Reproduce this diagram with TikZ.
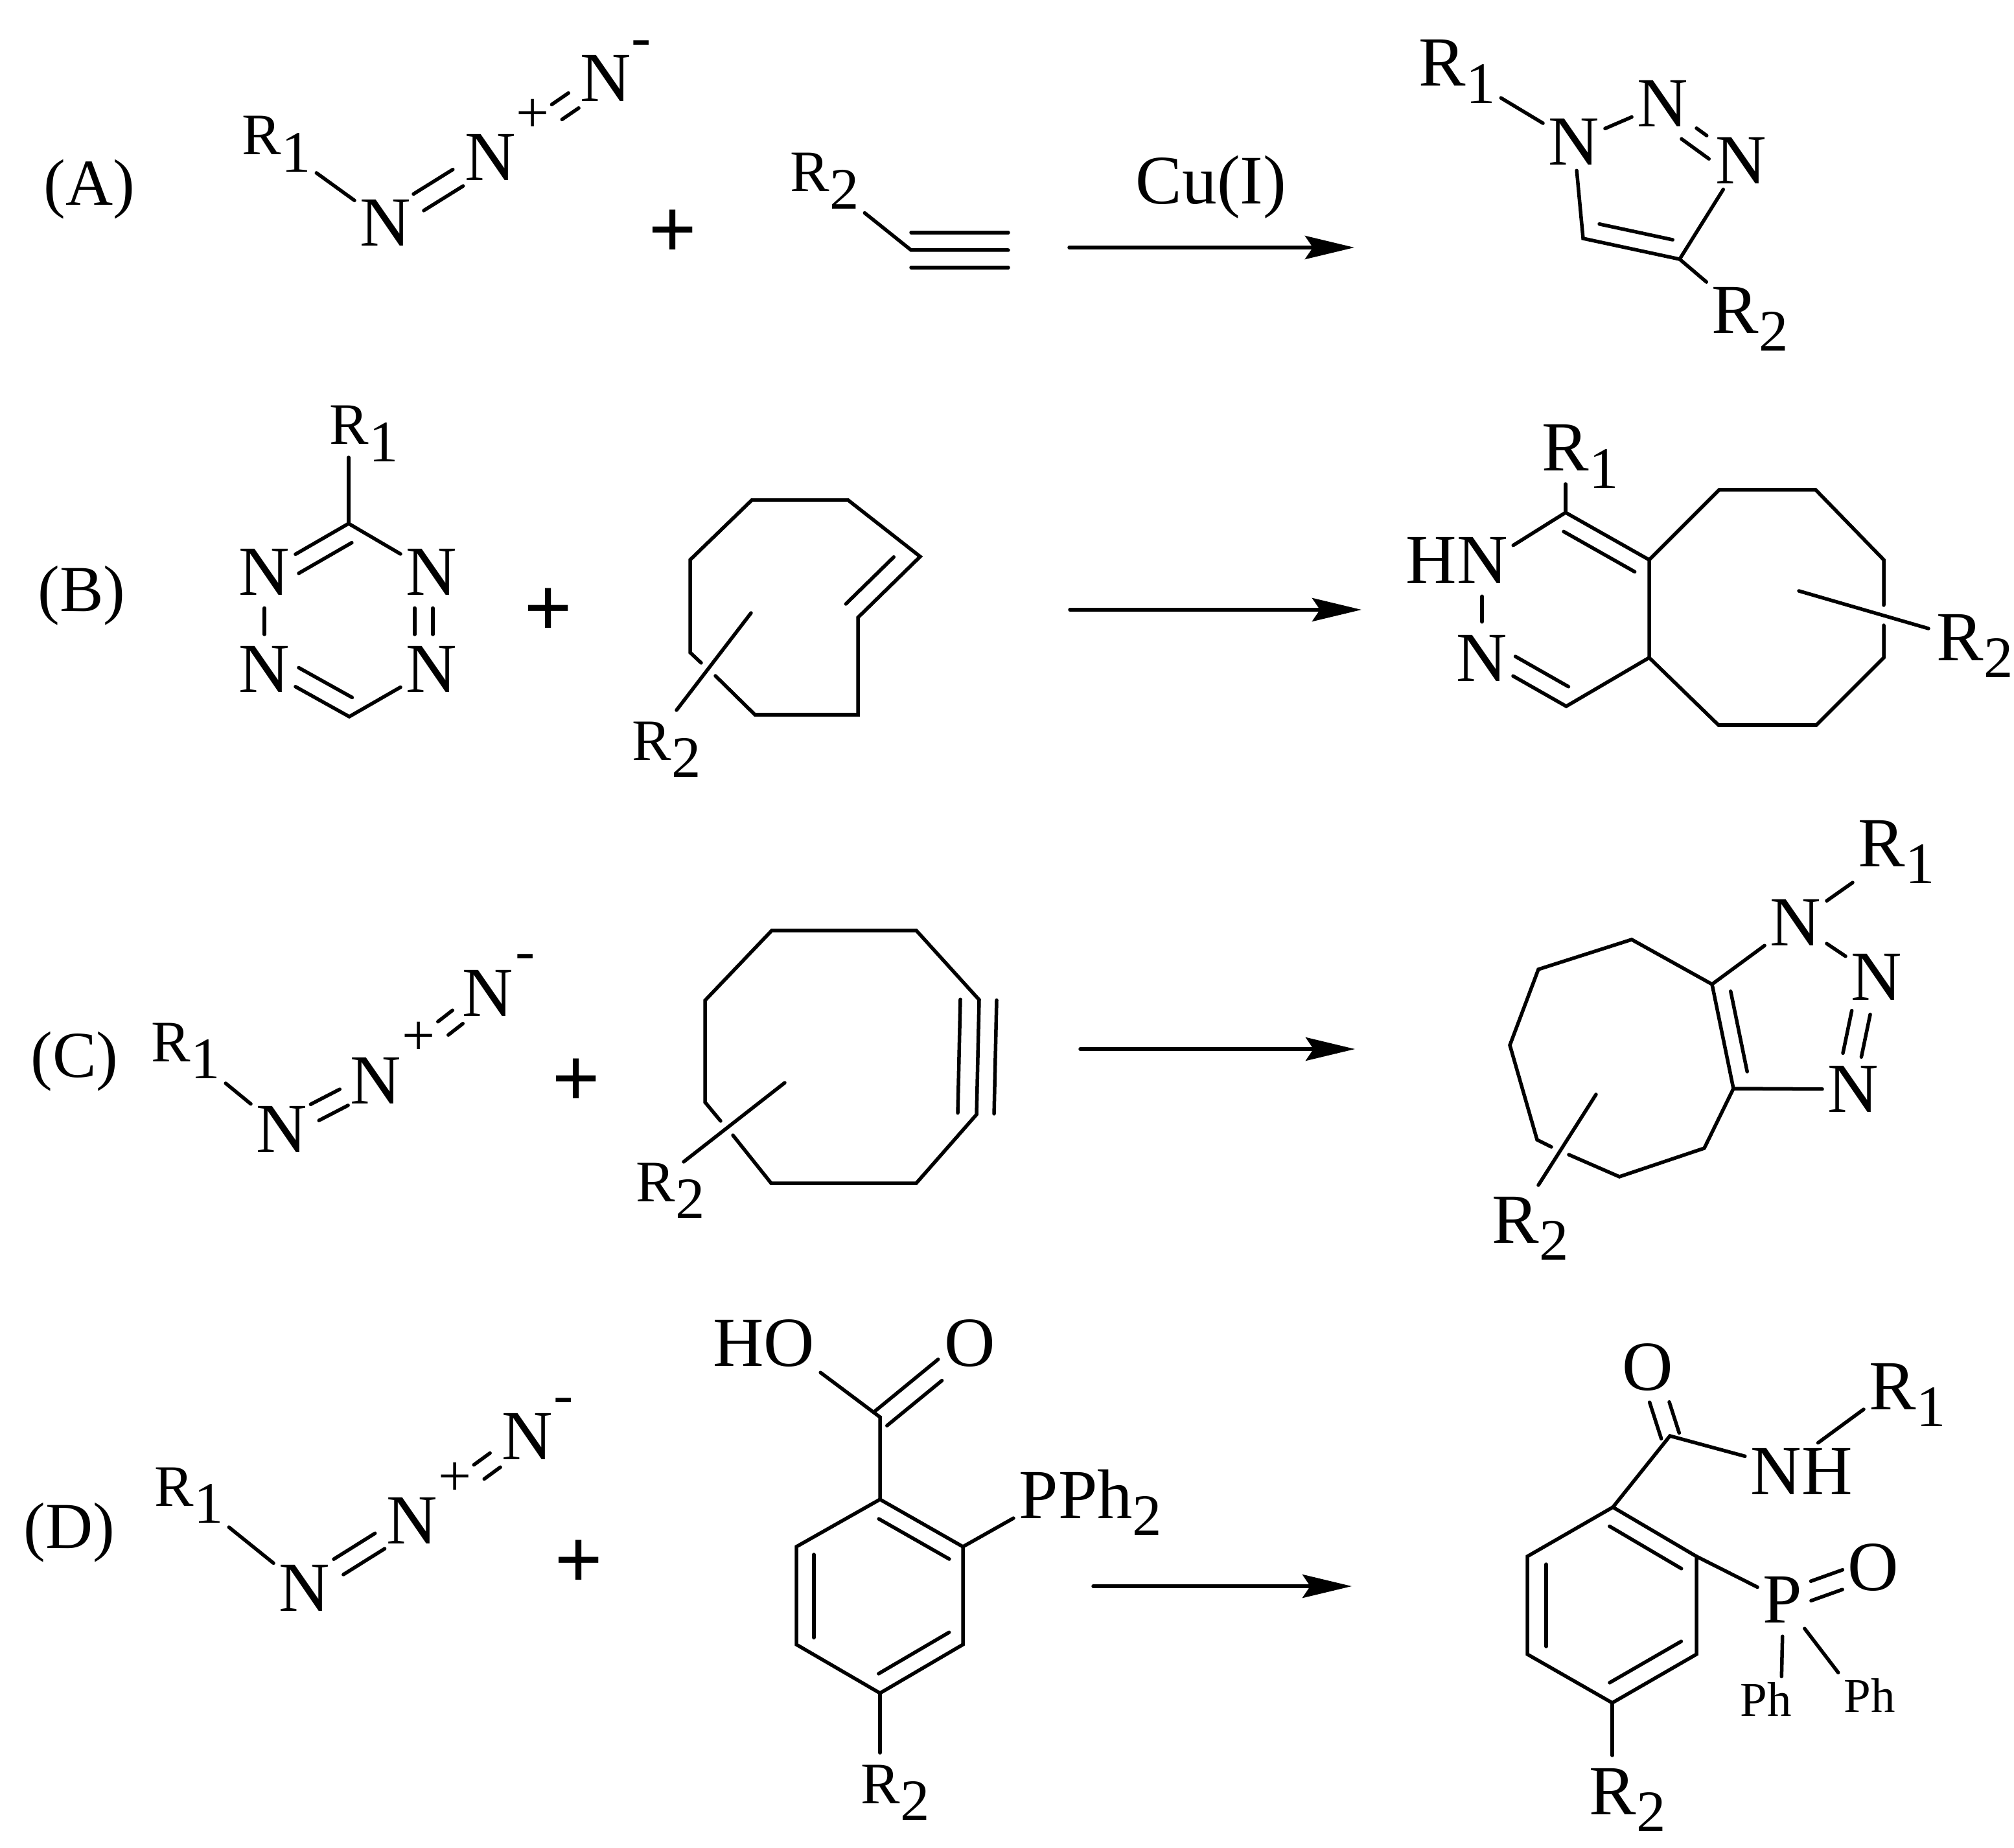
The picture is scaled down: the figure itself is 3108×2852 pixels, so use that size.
\documentclass[tikz,border=0pt]{standalone}
\usepackage{fontspec}
\setmainfont{Liberation Serif}
\usetikzlibrary{calc,arrows.meta}
\newcommand{\digitsize}{\fontsize{25.8}{26}\selectfont}
\newcommand{\Rsub}[1]{R\raisebox{-0.26cm}{\digitsize #1}}
\newcommand{\innerbond}[5]{\draw[bond] ($(#1)!#3!(#2)!#5!90:(#2)$) -- ($(#1)!#4!(#2)!#5!90:(#2)$);}
\tikzset{
	bond/.style={line width=0.055cm, line cap=round},
	rxn/.style={line width=0.055cm, line cap=round, -{Stealth[length=0.76cm,width=0.36cm,inset=0.12cm]}},
	atom/.style={font=\fontsize{30.9}{31}\selectfont, inner sep=0.08cm},
	rsmall/.style={font=\digitsize, inner sep=0.08cm, anchor=base west},
	rlarge/.style={font=\fontsize{30.9}{31}\selectfont, inner sep=0.08cm, anchor=base west},
	tag/.style={font=\fontsize{28.8}{30}\selectfont, anchor=base},
	plus/.style={font=\digitsize, inner sep=0pt, yshift=-0.06cm},
	minus/.style={font=\digitsize, inner sep=0pt, yshift=-0.13cm},
	bigplus/.style={font=\fontsize{37.5}{38}\selectfont\bfseries, inner sep=0pt, yshift=-0.06cm},
	phenyl/.style={font=\fontsize{21.3}{22}\selectfont, inner sep=0.08cm}
}
\begin{document}
\begin{tikzpicture}[x=0.01cm,y=-0.01cm]
	\useasboundingbox (0,0) rectangle (3108,2852);

	\node[tag] at (138,317) (tagA) {(A)};
	\node[rsmall] at (365,239) (aR1) {\Rsub{1}};
	\node[atom] at (595,344) (aN1) {N};
	\node[atom] at (757,243) (aN2) {N};
	\node[atom] at (935,121) (aN3) {N};
	\node[plus] at (822,173) (aPlus) {+};
	\node[minus] at (990,62) (aMinus) {-};
	\draw[bond] (aR1) -- (aN1);
	\innerbond{aN1}{aN2}{.315}{.69}{.15cm}
	\innerbond{aN1}{aN2}{.315}{.69}{-.15cm}
	\innerbond{aN2}{aN3}{.575}{.72}{.14cm}
	\innerbond{aN2}{aN3}{.575}{.72}{-.14cm}
	\node[bigplus] at (1038,355) (aAdd) {+};
	\node[rsmall] at (1211,296) (aR2) {\Rsub{2}};
	\coordinate (aC1) at (1406,386);
	\coordinate (aC2) at (1556,386);
	\draw[bond] (aR2) -- (aC1) -- (aC2);
	\innerbond{aC1}{aC2}{0}{1}{.27cm}
	\innerbond{aC1}{aC2}{0}{1}{-.27cm}
	\node[atom] at (1869,315) [anchor=base, font=\fontsize{30.5}{32}\selectfont] (aCu) {Cu(I)};
	\coordinate (aArrS) at (1650,382);
	\coordinate (aArrE) at (2090,382);
	\draw[rxn] (aArrS) -- (aArrE);

	\node[rlarge] at (2181,133) (apR1) {\Rsub{1}};
	\node[atom] at (2429,219) (apN1) {N};
	\node[atom] at (2566,160) (apN2) {N};
	\node[atom] at (2687,248) (apN3) {N};
	\node[rlarge] at (2633,515) (apR2) {\Rsub{2}};
	\coordinate (apC1) at (2443,368);
	\coordinate (apC2) at (2592,400);
	\draw[bond] (apR1) -- (apN1);
	\draw[bond] (apN1) -- (apN2);
	\innerbond{apN2}{apN3}{.43}{.56}{0cm}
	\innerbond{apN2}{apN3}{.37}{.72}{-.27cm}
	\draw[bond] (apN1) -- (apC1) -- (apC2) -- (apN3);
	\innerbond{apC1}{apC2}{.13}{.89}{.27cm}
	\draw[bond] (apC2) -- (apR2);

	\node[tag] at (126,943) (tagB) {(B)};
	\node[rsmall] at (500,686) (bR1) {\Rsub{1}};
	\coordinate (bR1e) at (538,706);
	\coordinate (bC1) at (538,808);
	\coordinate (bC2) at (539,1106);
	\node[atom] at (408,883) (bN1) {N};
	\node[atom] at (666,883) (bN2) {N};
	\node[atom] at (666,1033) (bN3) {N};
	\node[atom] at (408,1033) (bN4) {N};
	\draw[bond] (bR1e) -- (bC1);
	\draw[bond] (bN1) -- (bC1) -- (bN2);
	\draw[bond] (bN4) -- (bC2) -- (bN3);
	\innerbond{bN1}{bC1}{.30}{.93}{-.28cm}
	\innerbond{bN4}{bC2}{.30}{.93}{.28cm}
	\innerbond{bN1}{bN4}{.37}{.64}{0cm}
	\innerbond{bN2}{bN3}{.37}{.64}{.02cm}
	\innerbond{bN2}{bN3}{.37}{.64}{-.26cm}
	\node[bigplus] at (846,939) (bAdd) {+};
	\coordinate (bE1) at (1082,1023);
	\coordinate (bE2) at (1065,1007);
	\coordinate (bE3) at (1065,864);
	\coordinate (bE4) at (1160,772);
	\coordinate (bE5) at (1309,772);
	\coordinate (bE6) at (1420,859);
	\coordinate (bE7) at (1324,953);
	\coordinate (bE8) at (1324,1103);
	\coordinate (bE9) at (1165,1103);
	\coordinate (bE10) at (1104,1043);
	\draw[bond] (bE1) -- (bE2) -- (bE3) -- (bE4) -- (bE5) -- (bE6) -- (bE7) -- (bE8) -- (bE9) -- (bE10);
	\innerbond{bE6}{bE7}{.22}{.99}{-.28cm}
	\node[rsmall] at (967,1173) (bR2) {\Rsub{2}};
	\coordinate (bS1) at (1159,946);
	\coordinate (bS2) at (1044,1096);
	\draw[bond] (bS1) -- (bS2);
	\coordinate (bArrS) at (1651,941);
	\coordinate (bArrE) at (2101,941);
	\draw[rxn] (bArrS) -- (bArrE);

	\node[rlarge] at (2371,727) (bpR1) {\Rsub{1}};
	\coordinate (bpR1e) at (2416,747);
	\node[atom] at (2248,865) (bpHN) {HN};
	\node[atom] at (2287,1016) (bpN) {N};
	\coordinate (bpC1) at (2416,791);
	\coordinate (bpC2) at (2545,864);
	\coordinate (bpC3) at (2545,1015);
	\coordinate (bpC4) at (2417,1090);
	\draw[bond] (bpR1e) -- (bpC1);
	\draw[bond] (bpHN.15) -- (bpC1) -- (bpC2) -- (bpC3) -- (bpC4) -- (bpN);
	\draw[bond, shorten <=0.11cm, shorten >=0.12cm] (bpN |- bpHN.south) -- (bpN.north);
	\innerbond{bpC1}{bpC2}{.08}{.93}{-.27cm}
	\innerbond{bpN}{bpC4}{.29}{.92}{.28cm}
	\coordinate (bpE1) at (2653,756);
	\coordinate (bpE2) at (2802,756);
	\coordinate (bpE3) at (2907,864);
	\coordinate (bpE4) at (2907,934);
	\coordinate (bpE5) at (2907,965);
	\coordinate (bpE6) at (2907,1015);
	\coordinate (bpE7) at (2803,1119);
	\coordinate (bpE8) at (2652,1119);
	\draw[bond] (bpC2) -- (bpE1) -- (bpE2) -- (bpE3) -- (bpE4);
	\draw[bond] (bpE5) -- (bpE6) -- (bpE7) -- (bpE8) -- (bpC3);
	\node[rlarge] at (2980,1019) (bpR2) {\Rsub{2}};
	\coordinate (bpS1) at (2776,912);
	\coordinate (bpS2) at (2976,970);
	\draw[bond] (bpS1) -- (bpS2);

	\node[tag] at (115,1662) (tagC) {(C)};
	\node[rsmall] at (225,1638) (cR1) {\Rsub{1}};
	\node[atom] at (435,1743) (cN1) {N};
	\node[atom] at (580,1668) (cN2) {N};
	\node[atom] at (753,1533) (cN3) {N};
	\node[plus] at (646,1597) (cPlus) {+};
	\node[minus] at (811,1472) (cMinus) {-};
	\draw[bond] (cR1) -- (cN1);
	\innerbond{cN1}{cN2}{.35}{.66}{.14cm}
	\innerbond{cN1}{cN2}{.35}{.66}{-.14cm}
	\innerbond{cN2}{cN3}{.60}{.73}{.13cm}
	\innerbond{cN2}{cN3}{.60}{.73}{-.13cm}
	\node[bigplus] at (889,1665) (cAdd) {+};
	\coordinate (cE1) at (1112,1730);
	\coordinate (cE2) at (1088,1701);
	\coordinate (cE3) at (1088,1544);
	\coordinate (cE4) at (1191,1436);
	\coordinate (cE5) at (1414,1436);
	\coordinate (cE6) at (1511,1543);
	\coordinate (cE7) at (1507,1720);
	\coordinate (cE8) at (1414,1826);
	\coordinate (cE9) at (1190,1826);
	\coordinate (cE10) at (1131,1752);
	\draw[bond] (cE1) -- (cE2) -- (cE3) -- (cE4) -- (cE5) -- (cE6) -- (cE7) -- (cE8) -- (cE9) -- (cE10);
	\innerbond{cE6}{cE7}{0}{.99}{.27cm}
	\innerbond{cE6}{cE7}{0}{.99}{-.29cm}
	\node[rsmall] at (973,1854) (cR2) {\Rsub{2}};
	\coordinate (cS1) at (1211,1671);
	\coordinate (cS2) at (1055,1793);
	\draw[bond] (cS1) -- (cS2);
	\coordinate (cArrS) at (1667,1619);
	\coordinate (cArrE) at (2091,1619);
	\draw[rxn] (cArrS) -- (cArrE);

	\node[rlarge] at (2859,1337) (cpR1) {\Rsub{1}};
	\node[atom] at (2771,1424) (cpN1) {N};
	\node[atom] at (2896,1508) (cpN2) {N};
	\node[atom] at (2860,1681) (cpN3) {N};
	\draw[bond] (cpN1) -- (cpR1);
	\draw[bond] (cpN1) -- (cpN2);
	\innerbond{cpN2}{cpN3}{.33}{.71}{.02cm}
	\innerbond{cpN2}{cpN3}{.33}{.71}{-.27cm}
	\coordinate (cpC1) at (2642,1519);
	\coordinate (cpC2) at (2675,1680);
	\coordinate (cpE3) at (2630,1772);
	\coordinate (cpE4) at (2499,1816);
	\coordinate (cpE5) at (2421,1782);
	\coordinate (cpE6) at (2394,1770);
	\coordinate (cpE7) at (2372,1759);
	\coordinate (cpE8) at (2330,1613);
	\coordinate (cpE9) at (2374,1496);
	\coordinate (cpE10) at (2518,1450);
	\draw[bond] (cpE6) -- (cpE7) -- (cpE8) -- (cpE9) -- (cpE10) -- (cpC1) -- (cpC2) -- (cpE3) -- (cpE4) -- (cpE5);
	\innerbond{cpC1}{cpC2}{.10}{.87}{.26cm}
	\draw[bond] (cpC1) -- (cpN1);
	\draw[bond] (cpC2) -- (cpN3);
	\node[rlarge] at (2294,1918) (cpR2) {\Rsub{2}};
	\coordinate (cpS1) at (2463,1689);
	\coordinate (cpS2) at (2374,1829);
	\draw[bond] (cpS1) -- (cpS2);

	\node[tag] at (107,2389) (tagD) {(D)};
	\node[rsmall] at (230,2324) (dR1) {\Rsub{1}};
	\node[atom] at (470,2451) (dN1) {N};
	\node[atom] at (636,2347) (dN2) {N};
	\node[atom] at (814,2217) (dN3) {N};
	\node[plus] at (702,2277) (dPlus) {+};
	\node[minus] at (870,2157) (dMinus) {-};
	\draw[bond] (dR1) -- (dN1);
	\innerbond{dN1}{dN2}{.316}{.70}{.14cm}
	\innerbond{dN1}{dN2}{.316}{.70}{-.14cm}
	\innerbond{dN2}{dN3}{.58}{.72}{.135cm}
	\innerbond{dN2}{dN3}{.58}{.72}{-.135cm}
	\node[bigplus] at (893,2408) (dAdd) {+};
	\node[atom] at (1179,2073) (dHO) {HO};
	\node[atom] at (1497,2073) (dO) {O};
	\coordinate (dC) at (1358,2187);
	\coordinate (dT) at (1358,2314);
	\coordinate (dUR) at (1486,2387);
	\coordinate (dLR) at (1486,2538);
	\coordinate (dB) at (1358,2613);
	\coordinate (dLL) at (1229,2538);
	\coordinate (dUL) at (1229,2387);
	\draw[bond] (dHO.south east) -- (dC) -- (dT);
	\innerbond{dC}{dO}{0}{.70}{.12cm}
	\innerbond{dC}{dO}{0}{.61}{-.17cm}
	\draw[bond] (dT) -- (dUR) -- (dLR) -- (dB) -- (dLL) -- (dUL) -- cycle;
	\innerbond{dT}{dUR}{.09}{.94}{-.27cm}
	\innerbond{dLL}{dUL}{.07}{.92}{-.27cm}
	\innerbond{dB}{dLR}{.09}{.94}{.27cm}
	\node[rlarge] at (1564,2343) (dPPh) {PPh\raisebox{-0.26cm}{\digitsize 2}};
	\draw[bond] (dUR) -- (dPPh.base west);
	\node[rsmall] at (1320,2783) (dR2) {\Rsub{2}};
	\coordinate (dR2e) at (1358,2705);
	\draw[bond] (dB) -- (dR2e);
	\coordinate (dArrS) at (1687,2448);
	\coordinate (dArrE) at (2086,2448);
	\draw[rxn] (dArrS) -- (dArrE);

	\node[atom] at (2543,2110) (dpO) {O};
	\coordinate (dpC) at (2577,2216);
	\node[atom] at (2780,2271) (dpNH) {NH};
	\node[rlarge] at (2876,2175) (dpR1) {\Rsub{1}};
	\coordinate (dpT) at (2489,2326);
	\coordinate (dpUR) at (2618,2402);
	\coordinate (dpLR) at (2618,2553);
	\coordinate (dpB) at (2488,2628);
	\coordinate (dpLL) at (2357,2553);
	\coordinate (dpUL) at (2357,2402);
	\innerbond{dpC}{dpO}{0}{.53}{.14cm}
	\innerbond{dpC}{dpO}{0}{.45}{-.15cm}
	\draw[bond] (dpT) -- (dpC) -- (dpNH);
	\draw[bond] (dpNH.60) -- (dpR1.base west);
	\draw[bond] (dpT) -- (dpUR) -- (dpLR) -- (dpB) -- (dpLL) -- (dpUL) -- cycle;
	\innerbond{dpT}{dpUR}{.07}{.93}{-.28cm}
	\innerbond{dpLL}{dpUL}{.08}{.92}{-.29cm}
	\innerbond{dpB}{dpLR}{.08}{.93}{.29cm}
	\node[atom] at (2751,2469) (dpP) {P};
	\node[atom] at (2891,2419) (dpO2) {O};
	\draw[bond] (dpUR) -- (dpP);
	\innerbond{dpP}{dpO2}{.34}{.69}{.125cm}
	\innerbond{dpP}{dpO2}{.275}{.62}{-.16cm}
	\node[phenyl] at (2725,2622) (dpPh1) {Ph};
	\node[phenyl] at (2885,2616) (dpPh2) {Ph};
	\draw[bond, shorten <=0.12cm] (dpP.south) -- (dpPh1.55);
	\draw[bond] (dpP) -- (dpPh2.north west);
	\node[rlarge] at (2444,2800) (dpR2) {\Rsub{2}};
	\coordinate (dpR2e) at (2488,2709);
	\draw[bond] (dpB) -- (dpR2e);
\end{tikzpicture}
\end{document}
